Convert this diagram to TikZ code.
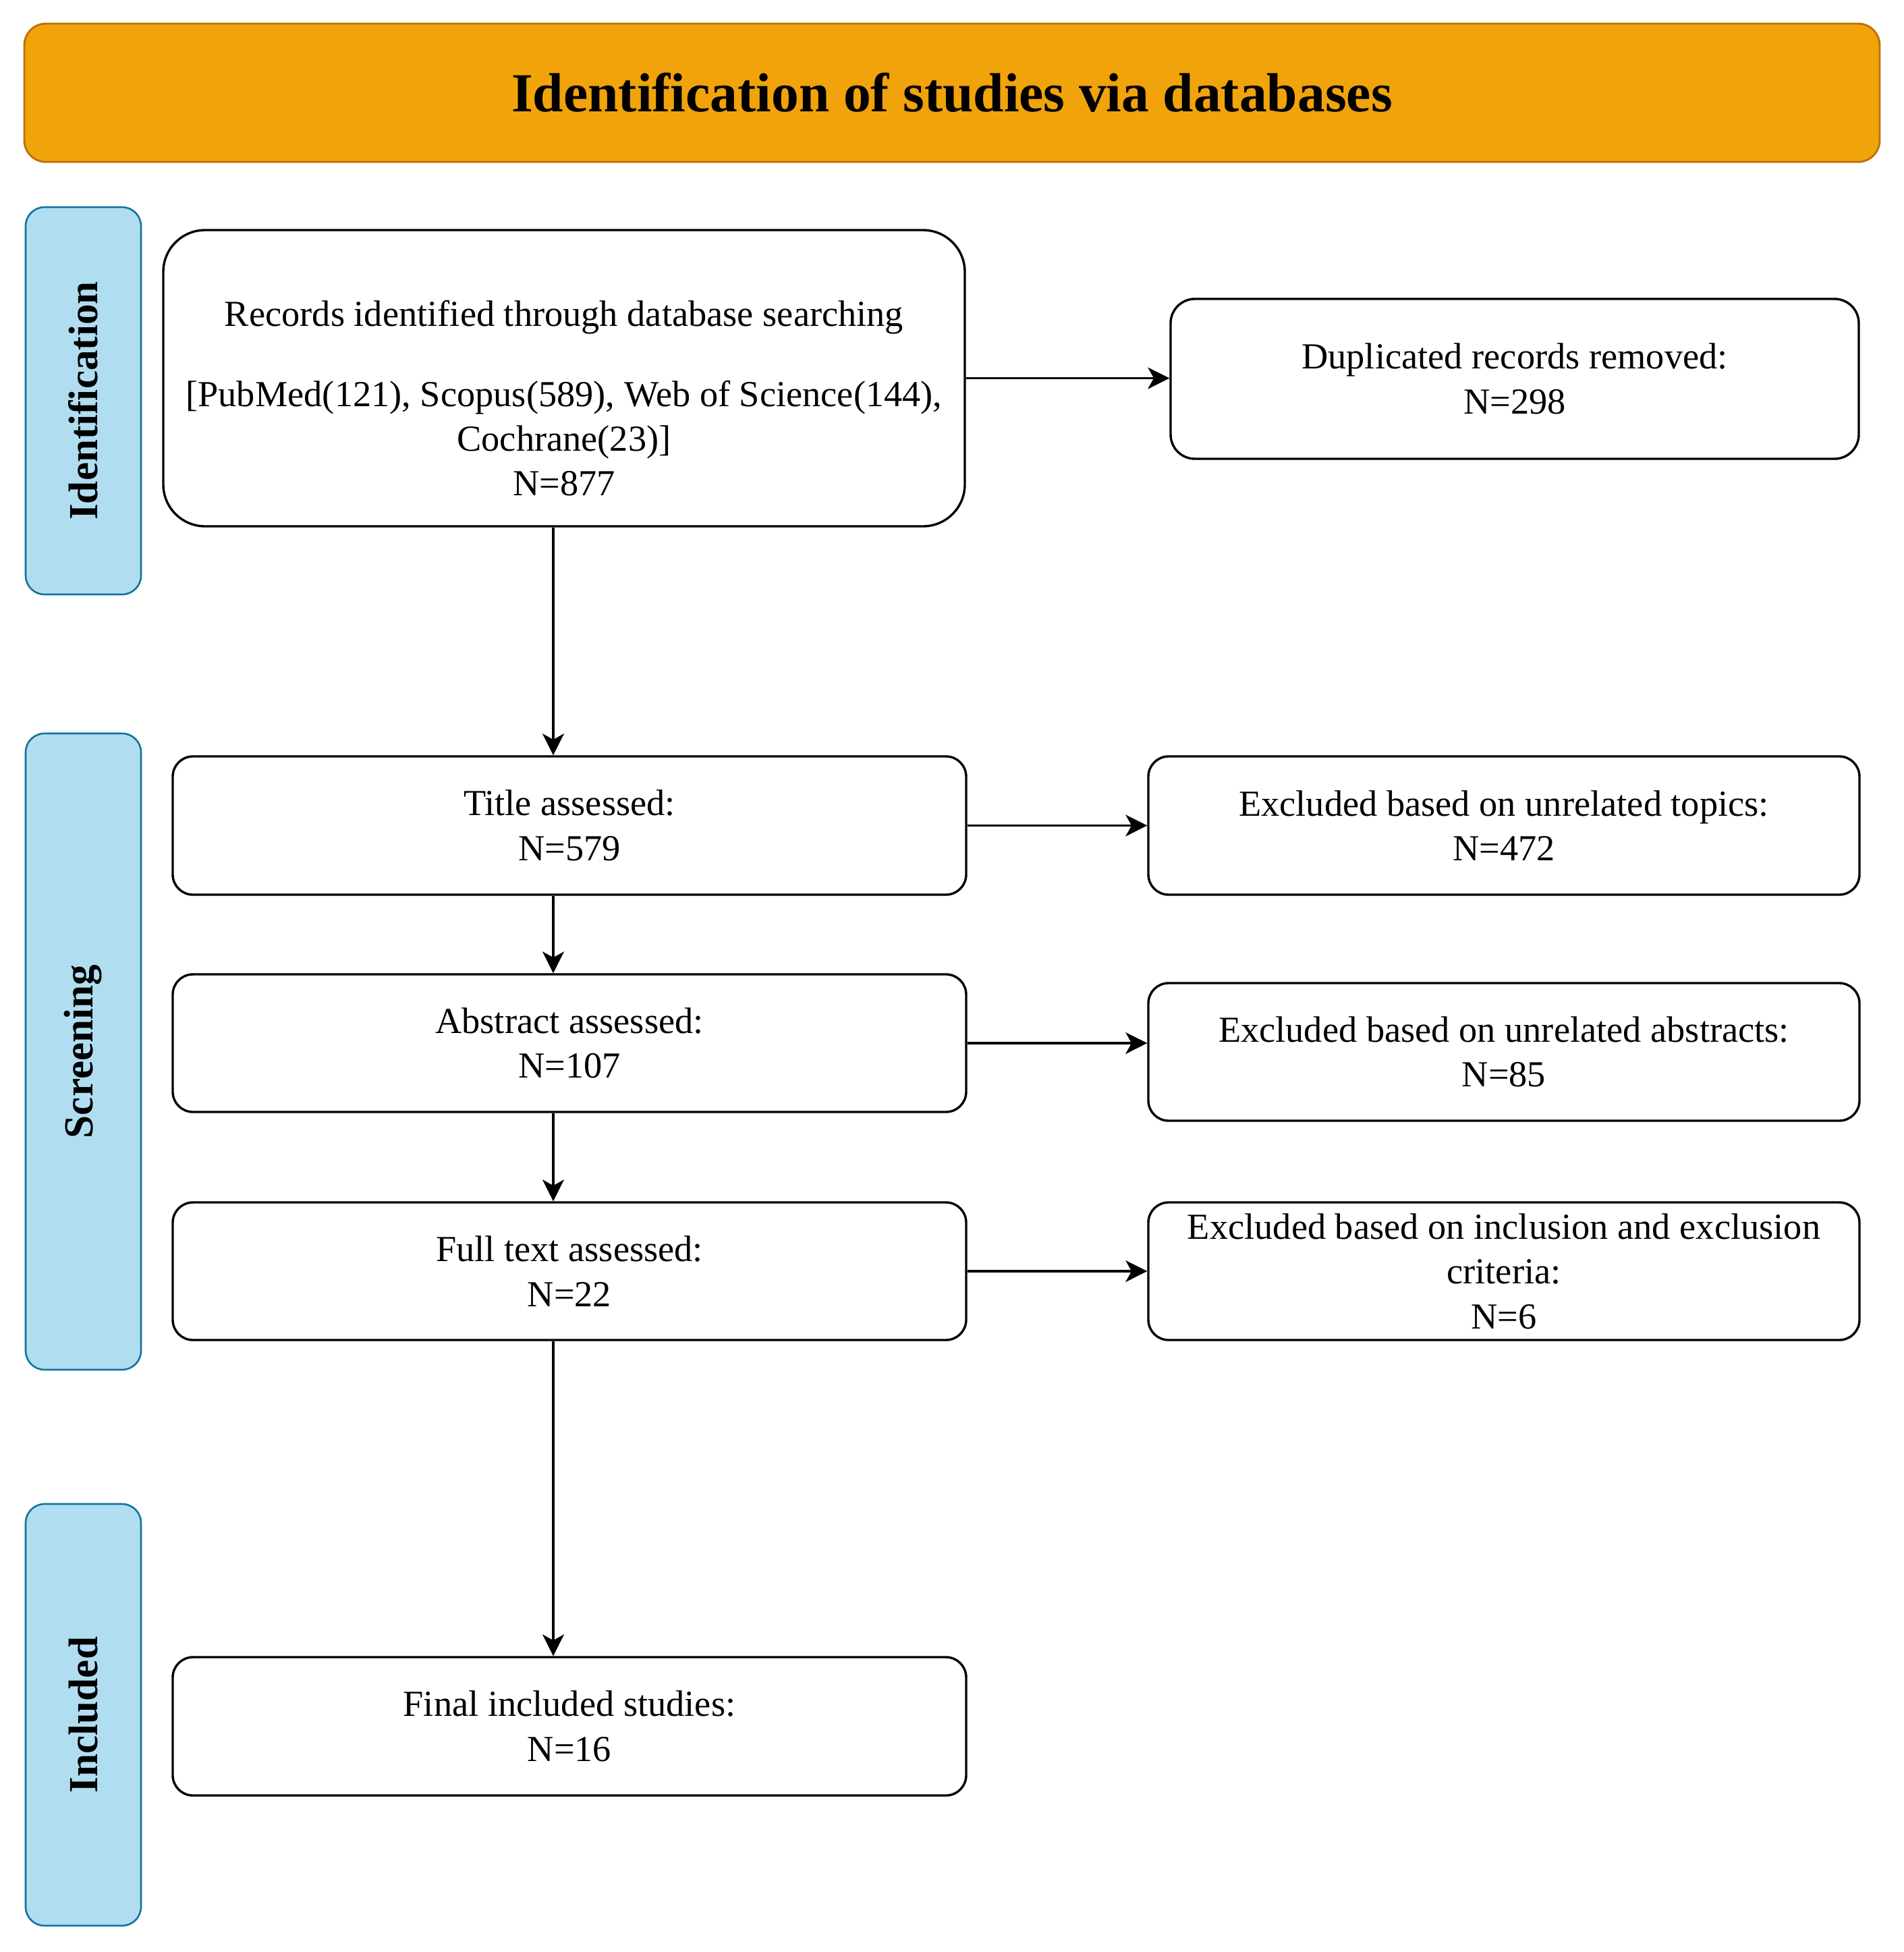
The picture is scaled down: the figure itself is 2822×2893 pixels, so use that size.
\documentclass[tikz,border=0pt]{standalone}
\usepackage{fontspec}
\setmainfont{Liberation Serif}
\usetikzlibrary{arrows.meta}
\definecolor{bannerfill}{HTML}{F0A30A}
\definecolor{bannerdraw}{HTML}{BD7000}
\definecolor{lanefill}{HTML}{B1DDF0}
\definecolor{lanedraw}{HTML}{10739E}
\begin{document}
\begin{tikzpicture}[x=0.25pt,y=-0.25pt,
  banner/.style={draw=bannerdraw,fill=bannerfill,line width=0.7pt,rounded corners=8pt,
    minimum width=687.5pt,minimum height=51.25pt,inner sep=0pt,
    font=\fontsize{20.4pt}{24pt}\selectfont\bfseries},
  lane/.style={draw=lanedraw,fill=lanefill,line width=0.65pt,rounded corners=7pt,
    minimum width=42.75pt,inner sep=0pt},
  lanetext/.style={rotate=90,inner sep=0pt,font=\fontsize{15.3pt}{18pt}\selectfont\bfseries},
  box/.style={draw=black,line width=0.85pt,rounded corners=7.5pt,inner sep=0pt,
    align=center,font=\fontsize{13.6pt}{16.6pt}\selectfont},
  plain/.style={inner sep=0pt,align=center,font=\fontsize{13.6pt}{16.6pt}\selectfont},
  arr/.style={line width=0.8pt,-{Stealth[length=8pt,width=8pt,inset=2.2pt]}}
]
\useasboundingbox (0,0) rectangle (2822,2893);

% banner
\node[banner] (head) at (1411,137.5) {Identification of studies via databases};

% lanes
\node[lane,minimum height=143.5pt] (lane1) at (123.5,594) {};
\node[lanetext] (lane1t) at (lane1.center) {Identification};
\node[lane,minimum height=235.75pt] (lane2) at (123.5,1558.5) {};
\node[lanetext] (lane2t) at (lane2.center) {Screening};
\node[lane,minimum height=156.25pt] (lane3) at (123.5,2541.5) {};
\node[lanetext] (lane3t) at (lane3.center) {Included};

% main column
\node[box,rounded corners=15.5pt,minimum width=297pt,minimum height=109.75pt] (rec) at (836,560.5) {};
\node[plain] (rect) at (836,590.5) {Records identified through database searching\\[13pt]
  [PubMed(121), Scopus(589), Web of Science(144),\\Cochrane(23)]\\N=877};

\node[box,minimum width=294pt,minimum height=51.25pt] (title) at (844,1223.5) {Title assessed:\\N=579};
\node[box,minimum width=294pt,minimum height=51pt] (abs) at (844,1546) {Abstract assessed:\\N=107};
\node[box,minimum width=294pt,minimum height=51pt] (full) at (844,1884) {Full text assessed:\\N=22};
\node[box,minimum width=294pt,minimum height=51.25pt] (final) at (844,2558.5) {Final included studies:\\N=16};

% right column
\node[box,rounded corners=9pt,minimum width=255pt,minimum height=59.25pt] (dup) at (2245,561.5) {Duplicated records removed:\\N=298};
\node[box,minimum width=263.5pt,minimum height=51.25pt] (ex1) at (2229,1223.5) {Excluded based on unrelated topics:\\N=472};
\node[box,minimum width=263.5pt,minimum height=51pt] (ex2) at (2229,1559) {Excluded based on unrelated abstracts:\\N=85};
\node[box,minimum width=263.5pt,minimum height=51pt] (ex3) at (2229,1884) {Excluded based on inclusion and exclusion\\criteria:\\N=6};

% connectors
\coordinate (vx) at (820,0);
\draw[arr] (rec.south -| vx) -- (title.north -| vx);
\draw[arr] (title.south -| vx) -- (abs.north -| vx);
\draw[arr] (abs.south -| vx) -- (full.north -| vx);
\draw[arr] (full.south -| vx) -- (final.north -| vx);
\draw[arr] (rec.east) -- (rec.east -| dup.west);
\draw[arr] (title.east) -- (title.east -| ex1.west);
\draw[arr] (abs.east) -- (abs.east -| ex2.west);
\draw[arr] (full.east) -- (full.east -| ex3.west);
\end{tikzpicture}
\end{document}
